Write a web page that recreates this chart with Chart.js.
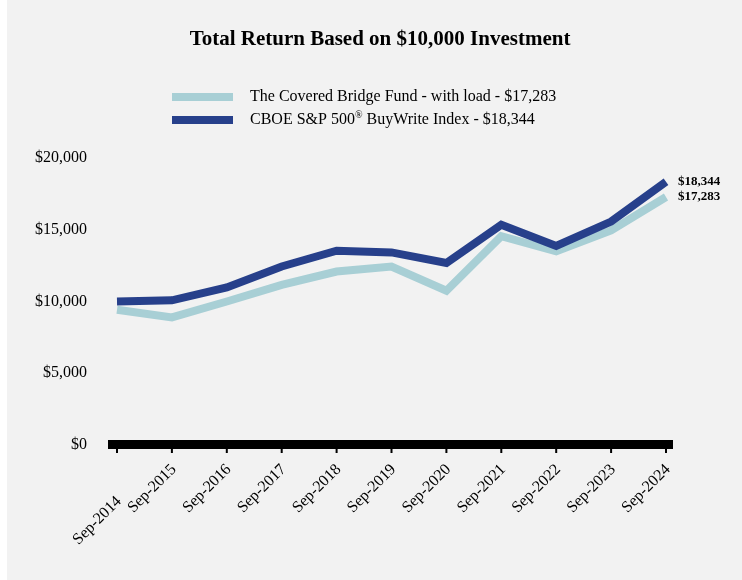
<!DOCTYPE html>
<html>
<head>
<meta charset="utf-8">
<script src="https://cdn.jsdelivr.net/npm/chart.js@4/dist/chart.umd.min.js"></script>
<style>
    html, body { margin: 0; padding: 0; background: #ffffff; }
    #wrap { width: 742px; height: 580px; }
</style>
</head>
<body>
<div id="wrap"><canvas id="returnChart" width="742" height="580"></canvas></div>
<script>
var categories = ['Sep-2014', 'Sep-2015', 'Sep-2016', 'Sep-2017', 'Sep-2018', 'Sep-2019', 'Sep-2020', 'Sep-2021', 'Sep-2022', 'Sep-2023', 'Sep-2024'];
var fundValues = [9425, 8890, 10000, 11160, 12090, 12440, 10750, 14550, 13490, 14950, 17283];
var indexValues = [10000, 10080, 10980, 12440, 13540, 13420, 12680, 15350, 13870, 15570, 18344];
var yTicks = [0, 5000, 10000, 15000, 20000];
var titleText = 'Total Return Based on $10,000 Investment';
var fundLabel = 'The Covered Bridge Fund - with load - $17,283';
var indexLabelParts = ['CBOE S&P 500', '\u00AE', ' BuyWrite Index - $18,344'];

var fundColor = '#a8cfd5';
var indexColor = '#27408b';
var serif = '"Liberation Serif", "DejaVu Serif", serif';

function money(v) {
    return '$' + v.toLocaleString('en-US');
}

// background, title, legend, axis bar, x labels and end labels
var decorations = {
    id: 'decorations',
    beforeDraw: function(chart) {
        var ctx = chart.ctx;
        ctx.save();
        ctx.fillStyle = '#ffffff';
        ctx.fillRect(0, 0, chart.width, chart.height);
        ctx.fillStyle = '#f2f2f2';
        ctx.fillRect(7, 0, chart.width - 7, chart.height);

        ctx.fillStyle = '#000000';
        ctx.textAlign = 'center';
        ctx.textBaseline = 'middle';
        ctx.font = 'bold 21px ' + serif;
        ctx.fillText(titleText, 380, 40);

        ctx.textAlign = 'left';
        ctx.fillStyle = fundColor;
        ctx.fillRect(172, 93, 61, 8);
        ctx.fillStyle = indexColor;
        ctx.fillRect(172, 116, 61, 8);

        ctx.fillStyle = '#000000';
        ctx.font = '16px ' + serif;
        ctx.fillText(fundLabel, 250, 97);
        var x = 250;
        ctx.fillText(indexLabelParts[0], x, 120);
        x += ctx.measureText(indexLabelParts[0]).width;
        ctx.font = '10px ' + serif;
        ctx.fillText(indexLabelParts[1], x, 115);
        x += ctx.measureText(indexLabelParts[1]).width;
        ctx.font = '16px ' + serif;
        ctx.fillText(indexLabelParts[2], x, 120);
        ctx.restore();
    },
    beforeDatasetsDraw: function(chart) {
        var ctx = chart.ctx;
        var area = chart.chartArea;
        var xs = chart.scales.x;
        ctx.save();
        ctx.fillStyle = '#000000';
        ctx.fillRect(area.left - 9, area.bottom - 5, area.right - area.left + 16, 9);
        for (var i = 0; i < categories.length; i++) {
            var px = xs.getPixelForValue(i);
            ctx.fillRect(px - 1, area.bottom + 3, 2, 5);
        }
        ctx.font = '16px ' + serif;
        ctx.textAlign = 'right';
        ctx.textBaseline = 'middle';
        for (var j = 0; j < categories.length; j++) {
            var tx = xs.getPixelForValue(j) + 2;
            var ty = area.bottom + 22 + (j === 0 ? 32 : 0);
            ctx.save();
            ctx.translate(tx, ty);
            ctx.rotate(-Math.PI / 4);
            ctx.fillText(categories[j], 0, 0);
            ctx.restore();
        }
        ctx.restore();
    },
    afterDatasetsDraw: function(chart) {
        var ctx = chart.ctx;
        var xs = chart.scales.x;
        var ys = chart.scales.y;
        var last = categories.length - 1;
        ctx.save();
        ctx.fillStyle = '#000000';
        ctx.font = 'bold 13px ' + serif;
        ctx.textAlign = 'left';
        ctx.textBaseline = 'middle';
        ctx.fillText(money(indexValues[last]), xs.getPixelForValue(last) + 12, ys.getPixelForValue(indexValues[last]));
        ctx.fillText(money(fundValues[last]), xs.getPixelForValue(last) + 12, ys.getPixelForValue(fundValues[last]));
        ctx.restore();
    }
};

document.addEventListener('DOMContentLoaded', function() {
    var ctx = document.getElementById('returnChart').getContext('2d');
    var myChart = new Chart(ctx, {
        type: 'line',
        data: {
            labels: categories,
            datasets: [{
                label: fundLabel,
                data: fundValues,
                borderColor: fundColor,
                backgroundColor: fundColor,
                borderWidth: 8,
                borderJoinStyle: 'miter',
                pointRadius: 0,
                tension: 0,
                order: 2
            }, {
                label: indexLabelParts.join(''),
                data: indexValues,
                borderColor: indexColor,
                backgroundColor: indexColor,
                borderWidth: 8,
                borderJoinStyle: 'miter',
                pointRadius: 0,
                tension: 0,
                order: 1
            }]
        },
        options: {
            responsive: false,
            animation: false,
            layout: {
                padding: { top: 158, right: 76, bottom: 0, left: 0 }
            },
            plugins: {
                legend: { display: false },
                title: { display: false },
                tooltip: { enabled: false }
            },
            scales: {
                x: {
                    offset: false,
                    grid: { display: false },
                    border: { display: false },
                    ticks: { display: false },
                    afterFit: function(scale) { scale.height = 135; }
                },
                y: {
                    min: 0,
                    max: 20000,
                    grid: { display: false },
                    border: { display: false },
                    afterBuildTicks: function(scale) {
                        scale.ticks = yTicks.map(function(v) { return { value: v }; });
                    },
                    afterFit: function(scale) { scale.width = 117; },
                    ticks: {
                        padding: 22,
                        color: '#000000',
                        font: { family: serif, size: 16 },
                        callback: function(value) { return money(value); }
                    }
                }
            }
        },
        plugins: [decorations]
    });
});
</script>
</body>
</html>
